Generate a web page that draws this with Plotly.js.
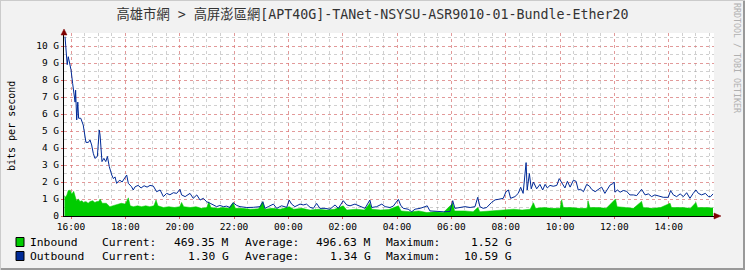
<!DOCTYPE html>
<html>
<head>
<meta charset="utf-8">
<script src="https://cdn.plot.ly/plotly-3.0.1.min.js"></script>
<style>
html,body{margin:0;padding:0;background:#F2F2F2;}
#chart{width:745px;height:270px;}
</style>
</head>
<body>
<div id="chart"></div>
<script>
// ---- data (hours since 16:00) ----
const titleText = '高雄市網 > 高屏澎區網[APT40G]-TANet-NSYSU-ASR9010-01-Bundle-Ether20';
const xTickVals = [0,2,4,6,8,10,12,14,16,18,20,22];
const xTickText = ['16:00','18:00','20:00','22:00','00:00','02:00','04:00','06:00','08:00','10:00','12:00','14:00'];
const yTickVals = [0,1,2,3,4,5,6,7,8,9,10];
const yTickText = ['0','1 G','2 G','3 G','4 G','5 G','6 G','7 G','8 G','9 G','10 G'];

const outTime = [-0.22,-0.14,-0.10,-0.055,0,0.06,0.11,0.15,0.17,0.21,0.25,0.28,0.36,0.45,0.55,0.64,0.70,0.76,0.82,0.88,0.97,1.04,1.07,1.14,1.21,1.28,1.34,1.41,1.50,1.56,1.62,1.68,1.75,1.80,1.88,1.95,2.05,2.11,2.17,2.23,2.29,2.36,2.47,2.58,2.69,2.80,2.91,3.03,3.15,3.28,3.40,3.52,3.64,3.77,3.89,4.01,4.07,4.20,4.38,4.50,4.63,4.75,4.87,4.99,5.12,5.24,5.36,5.48,5.61,5.73,5.85,5.97,6.10,6.22,6.47,6.71,6.83,6.96,7.06,7.14,7.26,7.45,7.57,7.75,7.94,8.03,8.12,8.24,8.43,8.55,8.67,8.80,8.92,9.04,9.16,9.35,9.53,9.72,9.84,10.02,10.15,10.27,10.45,10.64,10.82,11.00,11.07,11.25,11.44,11.56,11.74,11.86,12.05,12.13,12.23,12.41,12.54,12.66,12.85,13.03,13.11,13.21,13.46,13.70,13.95,14.05,14.13,14.32,14.50,14.69,14.87,14.97,15.05,15.17,15.30,15.48,15.61,15.73,15.91,16.01,16.10,16.18,16.34,16.46,16.55,16.64,16.75,16.79,16.87,16.94,17.02,17.14,17.26,17.36,17.45,17.53,17.63,17.75,17.88,17.97,18.06,18.18,18.27,18.37,18.49,18.59,18.67,18.76,18.86,18.98,19.08,19.16,19.29,19.41,19.53,19.65,19.78,19.84,19.94,19.99,20.02,20.11,20.21,20.33,20.45,20.57,20.70,20.82,21.00,21.13,21.25,21.37,21.49,21.68,21.80,21.98,22.07,22.17,22.29,22.42,22.54,22.66,22.78,22.90,23.00,23.09,23.21,23.35,23.46,23.54,23.63];
const outValue = [10.55,8.9,9.37,9.0,8.6,7.8,7.3,6.7,7.4,5.65,6.7,5.75,5.75,5.35,4.33,4.33,4.47,4.18,3.69,3.39,3.5,5.06,4.76,3.2,3.39,3.2,3.5,2.9,2.41,2.2,2.3,1.92,2.05,2.1,2.0,2.2,2.41,1.92,1.82,1.72,1.53,1.72,1.8,1.65,1.78,1.7,1.8,1.76,1.43,1.53,1.14,1.33,1.25,1.37,1.33,1.57,1.24,1.14,1.33,1.04,1.24,0.94,1.04,0.84,0.75,0.65,0.55,0.62,0.55,0.58,0.5,0.78,0.62,0.55,0.5,0.51,0.55,0.55,0.84,0.45,0.55,0.7,0.45,0.6,0.51,0.94,0.7,0.55,0.7,0.65,0.7,0.51,0.45,0.74,0.45,0.45,0.4,0.65,0.45,0.9,0.65,0.6,0.7,0.55,0.45,0.94,0.5,0.55,0.7,0.55,0.5,0.58,0.98,0.64,0.45,0.4,0.25,0.4,0.45,0.55,0.6,0.3,0.27,0.25,0.27,0.9,0.45,0.5,0.55,0.5,0.55,1.1,0.55,0.45,0.5,0.8,0.95,0.98,1.04,1.43,1.53,1.04,1.14,1.33,1.69,1.33,3.14,1.53,2.5,1.6,2.0,1.6,1.86,1.53,1.86,1.65,1.8,1.75,1.8,2.2,1.96,1.65,2.04,1.7,2.1,2.04,1.53,1.57,1.43,1.86,1.76,1.57,1.43,1.57,1.7,1.33,1.7,1.82,1.9,2.0,1.4,1.53,1.4,1.5,1.45,1.24,1.24,1.2,1.57,1.24,1.3,1.14,1.24,1.14,1.1,1.1,1.49,1.24,1.14,1.3,1.14,1.37,1.04,1.33,1.53,1.33,1.24,1.33,1.14,1.14,1.3];

const inTime = [-0.24,-0.2,-0.15,-0.1,-0.03,0.03,0.1,0.15,0.2,0.27,0.33,0.4,0.47,0.55,0.63,0.7,0.8,0.88,0.95,1.02,1.07,1.15,1.3,1.43,1.55,1.7,1.85,2.0,2.11,2.18,2.3,2.45,2.6,2.75,2.9,3.05,3.13,3.2,3.4,3.6,3.8,4.0,4.07,4.15,4.4,4.6,4.8,5.0,5.07,5.15,5.4,5.6,5.8,5.97,6.05,6.3,6.6,6.9,7.06,7.14,7.4,7.7,8.03,8.2,8.5,8.8,9.1,9.4,9.7,10.02,10.15,10.5,10.8,11.0,11.07,11.4,11.7,12.05,12.15,12.5,12.8,13.1,13.4,13.7,14.05,14.12,14.5,14.8,14.97,15.05,15.4,15.7,16.0,16.3,16.6,16.9,17.02,17.1,17.4,17.7,18.0,18.06,18.12,18.4,18.7,19.0,19.03,19.1,19.4,19.7,20.04,20.1,20.4,20.7,21.0,21.06,21.4,21.7,22.05,22.1,22.5,22.8,23.0,23.06,23.4,23.63];
const inValue = [1.2,1.1,1.25,1.5,1.52,1.3,1.45,1.2,0.9,1.0,0.85,0.9,0.8,0.85,0.75,0.85,0.9,0.8,0.85,0.85,1.0,0.75,0.75,0.55,0.6,0.65,0.75,0.7,1.07,0.6,0.55,0.6,0.55,0.6,0.55,0.6,0.94,0.6,0.5,0.55,0.5,0.55,0.8,0.55,0.5,0.55,0.45,0.5,0.84,0.5,0.45,0.5,0.45,0.8,0.45,0.45,0.4,0.42,0.84,0.4,0.45,0.4,0.55,0.4,0.45,0.35,0.4,0.35,0.4,0.6,0.35,0.4,0.35,0.75,0.4,0.35,0.38,0.6,0.3,0.25,0.3,0.2,0.25,0.2,0.75,0.3,0.3,0.25,0.5,0.25,0.3,0.3,0.35,0.4,0.35,0.4,0.78,0.45,0.5,0.45,0.45,0.96,0.5,0.5,0.45,0.45,0.9,0.5,0.5,0.45,1.0,0.55,0.5,0.45,0.86,0.5,0.45,0.5,0.75,0.5,0.5,0.45,0.8,0.5,0.5,0.47];

const seriesNames = ['Inbound','Outbound'];
const seriesColors = ['#00CC00','#002A97'];
const legendCurrent = ['469.35 M','1.30 G'];
const legendAverage = ['496.63 M','1.34 G'];
const legendMaximum = ['1.52 G','10.59 G'];

// ---- layout helpers (pixel -> paper) ----
const L = 64, R = 714, T = 33, B = 216;
const W = R - L, H = B - T;
const px = p => (p - L) / W;
const py = p => (B - p) / H;
const mono = 'DejaVu Sans Mono, Noto Sans CJK TC, monospace';

const traces = [
  {x: inTime, y: inValue, type: 'scatter', mode: 'lines', fill: 'tozeroy',
   fillcolor: seriesColors[0], line: {color: seriesColors[0], width: 0.5}, name: seriesNames[0]},
  {x: outTime, y: outValue, type: 'scatter', mode: 'lines',
   line: {color: seriesColors[1], width: 1}, name: seriesNames[1]}
];

const annotations = [];
const shapes = [];
function ann(text, xp, yp, xanchor, size, extra) {
  annotations.push(Object.assign({text: text, xref: 'paper', yref: 'paper', x: px(xp), y: py(yp),
    xanchor: xanchor, yanchor: 'middle', showarrow: false, borderpad: 0, borderwidth: 0,
    font: {family: mono, size: size, color: '#000'}}, extra || {}));
}
// y axis title
ann('bits per second', 11, 126, 'center', 10, {textangle: -90});
// watermark
ann('RRDTOOL / TOBI OETIKER', 737, 58, 'center', 8.3, {textangle: 90, font: {family: mono, size: 8.3, color: '#B0B0B0'}});
// legend rows
const rowY = [242, 256];
for (let i = 0; i < 2; i++) {
  const y = rowY[i];
  shapes.push({type: 'rect', xref: 'paper', yref: 'paper', x0: px(16), x1: px(24), y0: py(y - 4.5), y1: py(y + 4.5),
    fillcolor: seriesColors[i], line: {color: '#000', width: 1}});
  ann(seriesNames[i], 30, y, 'left', 11.3);
  ann('Current:', 102, y, 'left', 11.3);
  ann(legendCurrent[i], 228.5, y, 'right', 11.3);
  ann('Average:', 245, y, 'left', 11.3);
  ann(legendAverage[i], 371, y, 'right', 11.3);
  ann('Maximum:', 386, y, 'left', 11.3);
  ann(legendMaximum[i], 512, y, 'right', 11.3);
}
// axis arrows
const arrowColor = '#7F0000';
shapes.push({type: 'path', xref: 'paper', yref: 'paper',
  path: `M ${px(61)} ${py(35)} L ${px(67)} ${py(35)} L ${px(64)} ${py(29)} Z`, fillcolor: arrowColor, line: {color: arrowColor, width: 0.5}});
shapes.push({type: 'path', xref: 'paper', yref: 'paper',
  path: `M ${px(714)} ${py(213)} L ${px(714)} ${py(219)} L ${px(721)} ${py(216)} Z`, fillcolor: arrowColor, line: {color: arrowColor, width: 0.5}});
// frame shading
shapes.push({type: 'line', xref: 'paper', yref: 'paper', x0: px(0), x1: px(745), y0: py(269), y1: py(269), line: {color: '#999999', width: 2}});
shapes.push({type: 'line', xref: 'paper', yref: 'paper', x0: px(744), x1: px(744), y0: py(0), y1: py(270), line: {color: '#999999', width: 2}});
shapes.push({type: 'line', xref: 'paper', yref: 'paper', x0: px(0), x1: px(745), y0: py(0.5), y1: py(0.5), line: {color: '#CBCBCB', width: 1}});
shapes.push({type: 'line', xref: 'paper', yref: 'paper', x0: px(0.5), x1: px(0.5), y0: py(0), y1: py(270), line: {color: '#CBCBCB', width: 1}});

const majorGrid = 'rgba(240,110,110,0.55)';
const minorGrid = 'rgba(150,150,150,0.45)';

const layout = {
  width: 745, height: 270,
  margin: {l: L, r: 745 - R, t: T, b: 270 - B, pad: 0},
  paper_bgcolor: '#F2F2F2', plot_bgcolor: '#FFFFFF',
  showlegend: false,
  title: {text: titleText, xref: 'container', yref: 'container', x: 0.5, y: 1 - 14 / 270,
    xanchor: 'center', yanchor: 'middle', font: {family: mono, size: 13.3, color: '#333'}},
  xaxis: {range: [(L - 71) / 27.17, (R - 71) / 27.17], tickvals: xTickVals, ticktext: xTickText,
    showgrid: true, gridcolor: majorGrid, griddash: 'dot', gridwidth: 1,
    minor: {dtick: 0.5, tick0: 0, showgrid: true, gridcolor: minorGrid, griddash: 'dot', gridwidth: 1, ticks: ''},
    ticks: 'outside', ticklen: 2, tickcolor: '#E06060', zeroline: false,
    showline: true, linecolor: '#000', linewidth: 1,
    tickfont: {family: mono, size: 9.5, color: '#000'}, fixedrange: true},
  yaxis: {range: [0, (B - T) / 17], tickvals: yTickVals, ticktext: yTickText,
    showgrid: true, gridcolor: majorGrid, griddash: 'dot', gridwidth: 1,
    minor: {dtick: 0.5, tick0: 0, showgrid: true, gridcolor: minorGrid, griddash: 'dot', gridwidth: 1, ticks: ''},
    ticks: 'outside', ticklen: 2, tickcolor: '#E06060', zeroline: false,
    showline: true, linecolor: '#000', linewidth: 1,
    tickfont: {family: mono, size: 9.5, color: '#000'}, fixedrange: true},
  annotations: annotations,
  shapes: shapes
};

Plotly.newPlot('chart', traces, layout, {staticPlot: true, displayModeBar: false});
</script>
</body>
</html>
